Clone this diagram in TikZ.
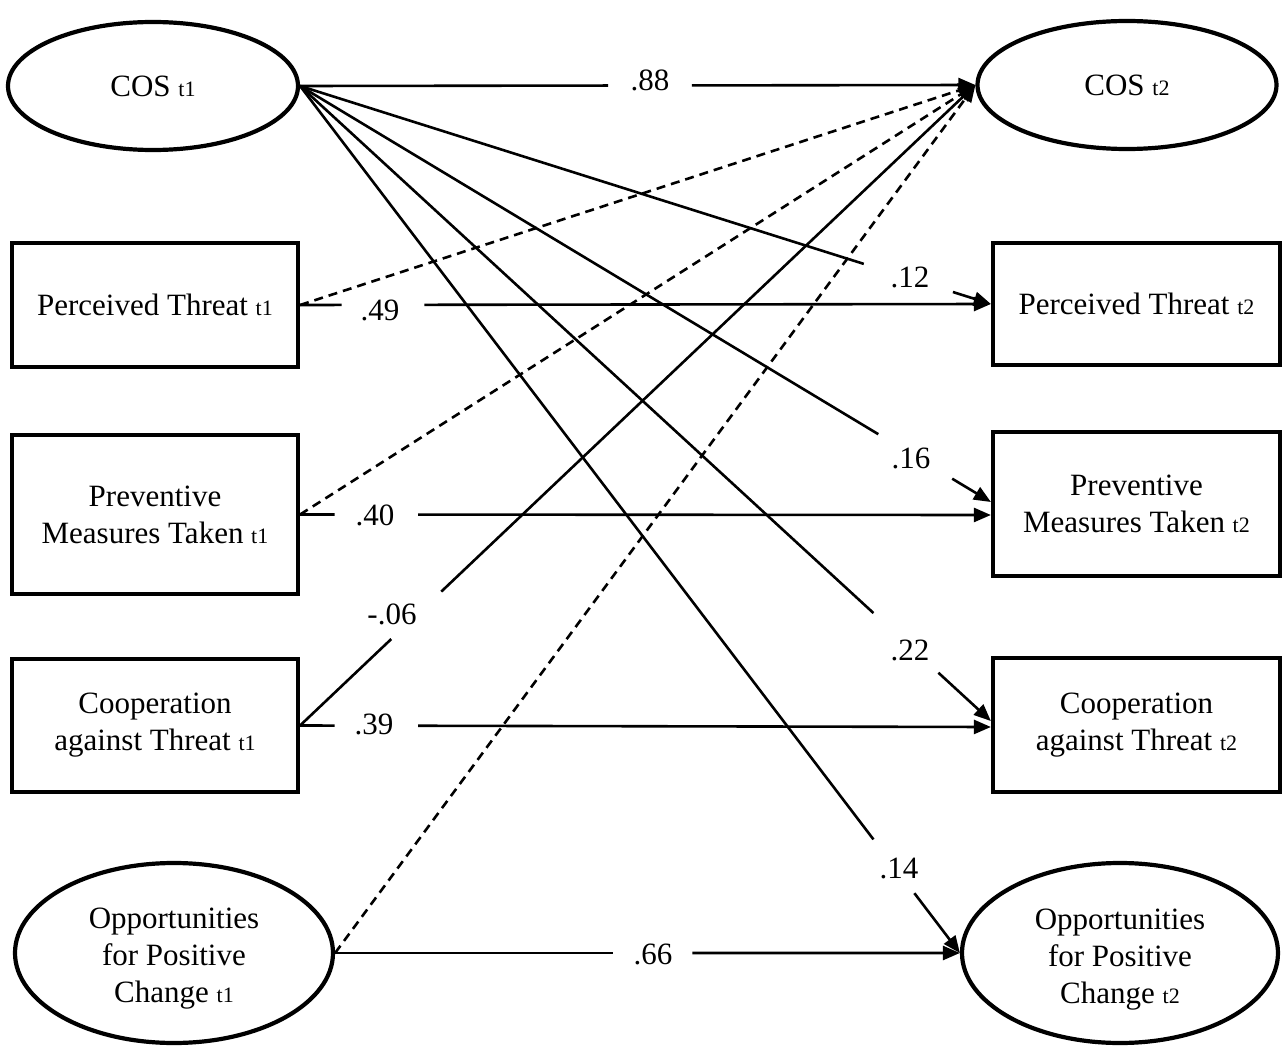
\documentclass[tikz,border=0pt]{standalone}
\usepackage{fontspec}
\setmainfont{Liberation Serif}
\usetikzlibrary{shapes.geometric,arrows.meta,calc}
\newcommand\tsub[1]{{\fontsize{11}{12}\selectfont #1}}
\tikzset{
  ell/.style={draw, ellipse, line width=2.1pt, inner sep=0pt, align=center},
  box/.style={draw, rectangle, line width=2.1pt, inner sep=0pt, align=center},
  lab/.style={inner sep=0pt},
  seg/.style={line width=1.3pt},
  arr/.style={line width=1.3pt, -{Triangle[length=8.5pt,width=7pt]}},
  dsh/.style={line width=1.3pt, dash pattern=on 4.5pt off 3pt, -{Triangle[length=8.5pt,width=7pt]}}
}
\begin{document}
\begin{tikzpicture}[x=0.5pt,y=-0.5pt,font=\fontsize{15.5}{18.5}\selectfont]
\useasboundingbox (0,0) rectangle (1282,1054);
% nodes
\node[ell, minimum width=145pt, minimum height=64pt] (cos1) at (153,86) {COS \tsub{t1}};
\node[ell, minimum width=149.5pt, minimum height=64pt] (cos2) at (1127,85) {COS \tsub{t2}};
\node[box, minimum width=143pt, minimum height=62pt] (pt1) at (155,305) {Perceived Threat \tsub{t1}};
\node[box, minimum width=143pt, minimum height=79.5pt] (pmt1) at (155,514.5) {Preventive\\Measures Taken \tsub{t1}};
\node[box, minimum width=143pt, minimum height=66.5pt] (cat1) at (155,725.5) {Cooperation\\against Threat \tsub{t1}};
\node[ell, minimum width=159pt, minimum height=90pt] (opc1) at (174,953) {\\[-3pt]Opportunities\\for Positive\\Change \tsub{t1}};
\node[box, minimum width=143.5pt, minimum height=61pt] (pt2) at (1136.5,304) {Perceived Threat \tsub{t2}};
\node[box, minimum width=143.5pt, minimum height=72pt] (pmt2) at (1136.5,504) {Preventive\\Measures Taken \tsub{t2}};
\node[box, minimum width=143.5pt, minimum height=67pt] (cat2) at (1136.5,725) {Cooperation\\against Threat \tsub{t2}};
\node[ell, minimum width=158pt, minimum height=90pt] (opc2) at (1120,953) {\\[-2pt]Opportunities\\for Positive\\Change \tsub{t2}};
% end points
\coordinate (pmt2a) at ([yshift=1pt]pmt2.west);
\coordinate (pmt2b) at ([yshift=-5.5pt]pmt2.west);
\coordinate (cat2a) at ([yshift=2pt]cat2.west);
\coordinate (cat2b) at ([yshift=-1pt]cat2.west);
% labels
\node[lab] (l88) at (650,80) {.88};
\node[lab] (l12) at (910,277) {.12};
\node[lab] (l16) at (911,458) {.16};
\node[lab] (l22) at (910,650) {.22};
\node[lab] (l14) at (899,868) {.14};
\node[lab] (l49) at (380,310) {.49};
\node[lab] (l40) at (375,515) {.40};
\node[lab] (l06) at (392,614) {-.06};
\node[lab] (l39) at (374,724) {.39};
\node[lab] (l66) at (653,954) {.66};
% dashed paths
\draw[dsh] (pt1.east) -- (cos2.west);
\draw[dsh] (pmt1.east) -- (cos2.west);
\draw[dsh] (opc1.east) -- (cos2.west);
% gapped paths
\draw[seg] (cos1.east) -- ($(cos1.east)!0.456!(cos2.west)$);
\draw[arr] ($(cos1.east)!0.580!(cos2.west)$) -- (cos2.west);
\draw[seg] (cos1.east) -- ($(cos1.east)!0.816!(pt2.west)$);
\draw[arr] ($(cos1.east)!0.945!(pt2.west)$) -- (pt2.west);
\draw[seg] (cos1.east) -- ($(cos1.east)!0.837!(pmt2a)$);
\draw[arr] ($(cos1.east)!0.944!(pmt2a)$) -- (pmt2a);
\draw[seg] (cos1.east) -- ($(cos1.east)!0.830!(cat2a)$);
\draw[arr] ($(cos1.east)!0.924!(cat2a)$) -- (cat2a);
\draw[seg] (cos1.east) -- ($(cos1.east)!0.869!(opc2.west)$);
\draw[arr] ($(cos1.east)!0.931!(opc2.west)$) -- (opc2.west);
\draw[seg] (pt1.east) -- ($(pt1.east)!0.060!(pt2.west)$);
\draw[arr] ($(pt1.east)!0.180!(pt2.west)$) -- (pt2.west);
\draw[seg] (pmt1.east) -- ($(pmt1.east)!0.050!(pmt2b)$);
\draw[arr] ($(pmt1.east)!0.171!(pmt2b)$) -- (pmt2b);
\draw[seg] (cat1.east) -- ($(cat1.east)!0.050!(cat2b)$);
\draw[arr] ($(cat1.east)!0.171!(cat2b)$) -- (cat2b);
\draw[seg] (opc1.east) -- ($(opc1.east)!0.444!(opc2.west)$);
\draw[arr] ($(opc1.east)!0.572!(opc2.west)$) -- (opc2.west);
\draw[seg] (cat1.east) -- ($(cat1.east)!0.135!(cos2.west)$);
\draw[arr] ($(cat1.east)!0.209!(cos2.west)$) -- (cos2.west);
\end{tikzpicture}
\end{document}
